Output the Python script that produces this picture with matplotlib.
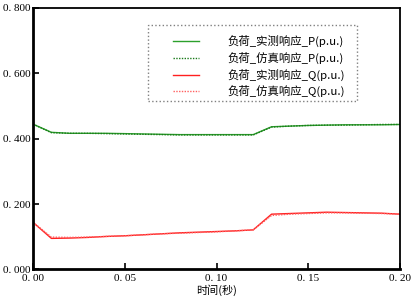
import matplotlib
matplotlib.use("Agg")
import matplotlib.pyplot as plt
from matplotlib.patches import Rectangle

plt.rcParams['font.family'] = ['Noto Sans CJK SC', 'DejaVu Sans']

# time axis (s)
t = [0.00, 0.01, 0.02, 0.03, 0.04, 0.05, 0.06, 0.07, 0.08, 0.09, 0.10,
     0.11, 0.12, 0.13, 0.14, 0.15, 0.16, 0.17, 0.18, 0.19, 0.20]

p_meas = [0.444, 0.419, 0.416, 0.416, 0.416, 0.415, 0.414, 0.413, 0.412, 0.412, 0.412,
          0.412, 0.412, 0.436, 0.438, 0.440, 0.441, 0.442, 0.442, 0.442, 0.443]
p_sim = [0.444, 0.418, 0.416, 0.416, 0.415, 0.414, 0.413, 0.412, 0.411, 0.411, 0.411,
         0.411, 0.411, 0.435, 0.438, 0.440, 0.441, 0.441, 0.442, 0.443, 0.443]
q_meas = [0.144, 0.095, 0.096, 0.098, 0.101, 0.103, 0.106, 0.109, 0.112, 0.114, 0.116,
          0.118, 0.121, 0.169, 0.171, 0.173, 0.175, 0.174, 0.173, 0.172, 0.169]
q_sim = [0.144, 0.099, 0.098, 0.099, 0.101, 0.103, 0.106, 0.109, 0.111, 0.113, 0.115,
         0.118, 0.121, 0.165, 0.169, 0.171, 0.173, 0.173, 0.172, 0.171, 0.169]

labels = ["负荷_实测响应_P(p.u.)", "负荷_仿真响应_P(p.u.)",
          "负荷_实测响应_Q(p.u.)", "负荷_仿真响应_Q(p.u.)"]

xticks = [0.00, 0.05, 0.10, 0.15, 0.20]
xticklabels = ["0. 00", "0. 05", "0. 10", "0. 15", "0. 20"]
yticks = [0.0, 0.2, 0.4, 0.6, 0.8]
yticklabels = ["0. 000", "0. 200", "0. 400", "0. 600", "0. 800"]

fig = plt.figure(figsize=(4.13, 3.04), dpi=100)
ax = fig.add_axes([0.08, 0.1135, 0.8885, 0.8615])

ax.plot(t, p_meas, color="#2ca02c", lw=1.0, label=labels[0])
ax.plot(t, p_sim, color="#1a7a1a", lw=1.0, ls=(0, (1, 1)), label=labels[1])
ax.plot(t, q_meas, color="#ff2020", lw=1.0, label=labels[2])
ax.plot(t, q_sim, color="#ff6060", lw=1.0, ls=(0, (1, 1)), label=labels[3])

ax.set_xlim(0, 0.2)
ax.set_ylim(0, 0.8)
ax.set_xticks(xticks)
ax.set_xticklabels(xticklabels, family="Liberation Serif", fontsize=8)
ax.set_yticks(yticks)
ax.set_yticklabels(yticklabels, family="Liberation Serif", fontsize=8)
ax.tick_params(direction="in", length=4, width=1.2, pad=3)
ax.tick_params(axis="y", pad=2)
ax.set_xlabel("时间(秒)", fontsize=8, labelpad=1)

for s in ["left", "bottom"]:
    ax.spines[s].set_linewidth(2.0)
for s in ["top", "right"]:
    ax.spines[s].set_linewidth(1.3)

# legend without frame, dotted box drawn around it
leg = ax.legend(loc="upper left", bbox_to_anchor=(0.381, 0.895), fontsize=8.2,
                handlelength=2.3, handletextpad=2.5, borderpad=0,
                labelspacing=0.4, frameon=False, borderaxespad=0)
ax.add_patch(Rectangle((0.313, 0.643), 0.569, 0.290, transform=ax.transAxes,
                       fill=False, ls=":", ec="#808080", lw=1.0, zorder=5))

fig.savefig("out.png", dpi=100, facecolor="white")
